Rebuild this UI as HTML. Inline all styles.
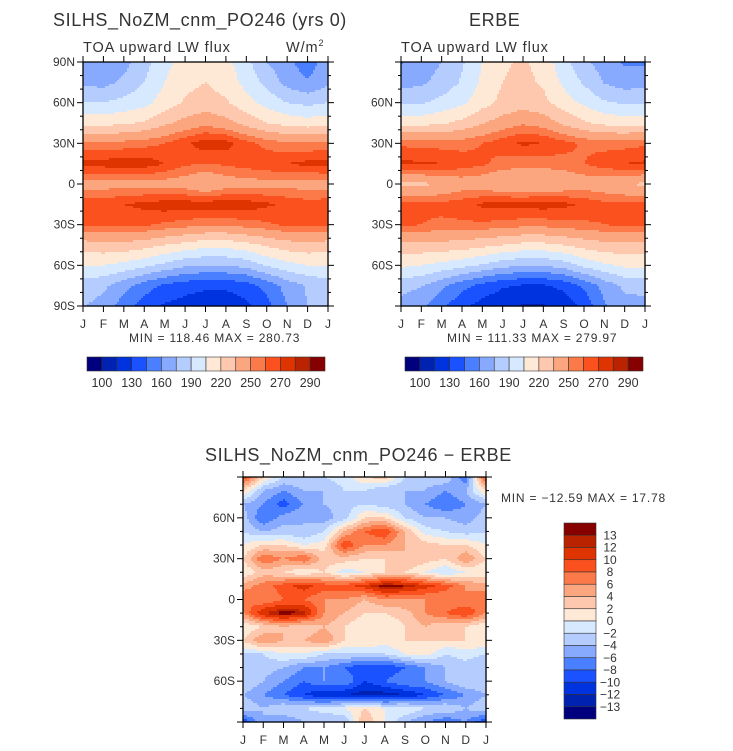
<!DOCTYPE html>
<html><head><meta charset="utf-8">
<style>
html,body{margin:0;padding:0;background:#fff;}
svg{display:block;font-family:"Liberation Sans",sans-serif;}
text{fill:#333;}
</style></head>
<body>
<svg id="c" width="733" height="751" viewBox="0 0 733 751">
<g id="plots"></g>
<text x="53" y="26" font-size="18" letter-spacing="0.6">SILHS_NoZM_cnm_PO246 (yrs 0)</text>
<text x="83" y="52" font-size="14.5" letter-spacing="0.9">TOA upward LW flux</text>
<text x="286" y="52" font-size="14.5" letter-spacing="0.9">W/m<tspan font-size="9" dy="-6">2</tspan></text>
<text x="469" y="26" font-size="18" letter-spacing="0.6">ERBE</text>
<text x="401" y="52" font-size="14.5" letter-spacing="0.9">TOA upward LW flux</text>
<text x="205" y="461" font-size="18" letter-spacing="0.6">SILHS_NoZM_cnm_PO246 − ERBE</text>
<text x="129" y="342" font-size="12" letter-spacing="0.8">MIN = 118.46  MAX = 280.73</text>
<text x="447" y="342" font-size="12" letter-spacing="0.8">MIN = 111.33  MAX = 279.97</text>
<text x="501" y="502" font-size="12" letter-spacing="0.8">MIN = −12.59  MAX =  17.78</text>
</svg>
<script>
const months = ["J","F","M","A","M","J","J","A","S","O","N","D","J"];
const latsTop = [90,75,60,45,30,15,0,-15,-30,-45,-60,-75,-90];
const latsDiff = [90,80,70,60,50,40,30,20,10,0,-10,-20,-30,-40,-50,-60,-70,-80,-90];
const levelsTop = [100,115,130,145,160,175,190,205,220,235,250,260,270,280,290];
const levelsDiff = [-13,-12,-10,-8,-6,-4,-2,0,2,4,6,8,10,12,13];
const tickLabelsTop = ["100","130","160","190","220","250","270","290"];
const tickLabelsDiff = ["13","12","10","8","6","4","2","0","−2","−4","−6","−8","−10","−12","−13"];
const palette = ["#00007f","#0022b0","#0033e0","#1a52ff","#4a80ff","#87aaff","#b5ccff","#d7e9ff","#fee8d6","#fdc8ad","#fca67f","#fc7a4a","#fb511f","#e03400","#b92300","#870000"];
const modelValues = [
 [170,165,170,185,200,212,216,210,195,175,165,150,170],
 [172,170,178,190,205,216,220,214,200,185,170,162,172],
 [190,190,195,200,212,222,226,222,210,200,190,186,190],
 [215,215,218,222,232,240,246,240,230,220,215,212,215],
 [252,252,254,256,260,268,276,274,264,256,252,252,252],
 [274,275,276,276,270,262,260,262,265,268,270,273,274],
 [244,244,245,245,244,242,234,242,244,245,245,244,244],
 [266,267,270,273,276,276,276,277,276,272,268,265,266],
 [262,262,262,262,258,255,252,252,255,258,262,262,262],
 [228,230,230,226,220,215,210,210,215,222,228,230,228],
 [205,205,200,194,186,178,175,176,180,192,200,205,205],
 [182,178,166,152,142,136,133,133,138,150,166,176,182],
 [176,170,152,138,128,124,120,120,126,140,160,176,176]
];
const erbeValues = [
 [158,168,175,188,205,218,222,215,195,178,168,158,158],
 [170,172,180,192,208,220,224,218,202,188,174,168,170],
 [188,188,195,202,214,224,228,224,212,202,192,188,188],
 [215,215,218,224,234,242,248,244,232,222,216,214,215],
 [258,256,256,256,260,266,272,270,264,258,256,256,258],
 [272,272,270,266,262,256,254,254,256,260,266,270,272],
 [232,232,236,242,240,236,234,236,238,242,240,236,232],
 [262,262,263,266,272,274,274,275,273,268,263,262,262],
 [262,260,258,258,258,256,254,254,256,258,260,262,262],
 [230,230,230,228,224,220,216,216,220,226,230,230,230],
 [208,205,200,195,188,180,176,176,182,194,202,208,208],
 [180,176,164,150,140,132,128,128,134,148,166,178,180],
 [170,164,148,134,124,118,114,114,120,134,158,170,170]
];
const diffValues = [
 [10,2,-2,-2,-2,-1,2,3,-2,-3,-2,-8,10],
 [2,-4,-6,-4,-4,-2,-2,-4,-4,-4,-6,-4,2],
 [-4,-6,-9,-6,-4,-3,-2,-3,-4,-6,-8,-6,-4],
 [-3,-8,-5,-4,-5,-3,2,2,-2,-4,-4,-5,-3],
 [-2,-4,-3,-4,-2,4,8,10,4,-1,-2,-3,-2],
 [0,2,2,0,1,10,6,6,4,3,2,2,0],
 [2,8,6,8,3,3,2,2,4,3,2,6,2],
 [0,3,2,0,2,-1,0,2,2,0,-2,0,0],
 [5,7,9,11,9,9,11,14,13,11,9,6,5],
 [8,6,8,8,6,6,4,6,6,6,6,6,8],
 [6,12,14,13,6,4,2,2,3,6,8,10,6],
 [0,2,4,2,4,2,0,0,2,4,2,2,0],
 [2,6,4,4,6,2,2,1,2,2,2,2,2],
 [-2,-2,0,0,-2,-2,-2,-2,0,1,-2,-1,-2],
 [-4,-3,-4,-6,-6,-8,-10,-10,-8,-6,-4,-3,-4],
 [-2,-4,-6,-8,-6,-6,-10,-8,-6,-6,-4,-2,-2],
 [-4,-6,-8,-10,-12,-12,-13,-13,-12,-10,-8,-6,-4],
 [-2,-4,-2,-2,-1,0,2,0,0,-2,-2,-4,-2],
 [-10,-4,-6,-4,-4,-4,4,0,-4,-6,-8,-6,-10]
];
const latLabelsFull = ["90N","60N","30N","0","30S","60S","90S"];
const latLabelsShort = ["","60N","30N","0","30S","60S",""];

const NS="http://www.w3.org/2000/svg";
const root=document.getElementById('plots');
function mk(tag,attrs,parent){const e=document.createElementNS(NS,tag);for(const k in attrs)e.setAttribute(k,attrs[k]);(parent||root).appendChild(e);return e;}
function colorIndex(v,levels){let i=0;while(i<levels.length&&v>=levels[i])i++;return i;}
function sample(grid,lats,mi,lat){
  let m0=Math.max(0,Math.min(Math.floor(mi),months.length-2)),fm=mi-m0;
  let step=(lats[0]-lats[lats.length-1])/(lats.length-1);
  let r=(lats[0]-lat)/step;let r0=Math.max(0,Math.min(Math.floor(r),lats.length-2)),fr=r-r0;
  const a=grid[r0][m0],b=grid[r0][m0+1],c=grid[r0+1][m0],d=grid[r0+1][m0+1];
  return (a*(1-fm)+b*fm)*(1-fr)+(c*(1-fm)+d*fm)*fr;
}
function panel(name,x0,y0,w,h,grid,lats,levels,labels){
  const g=mk('g',{});
  
  
  const cs=2;
  const xS=mi=>x0+mi/(months.length-1)*w;
  const yS=lat=>y0+(90-lat)/180*h;
  for(let py=0;py<h;py+=cs){
    const lat=90-(py+cs/2)/h*180;
    let runStart=0,runCol=-1;
    for(let px=0;;px+=cs){
      const done=px>=w;
      let ci=-1;
      if(!done){const mi=Math.min((px+cs/2)/w,1)*(months.length-1);ci=colorIndex(sample(grid,lats,mi,lat),levels);}
      if(ci!==runCol||done){
        if(runCol>=0){const end=Math.min(px,w);
          const r=mk('rect',{x:x0+runStart,y:y0+py,width:end-runStart+0.6,height:Math.min(cs,h-py)+0.6,fill:palette[runCol]},g);
          
          }
        runStart=px;runCol=ci;
      }
      if(done)break;
    }
  }
  const f=mk('rect',{x:x0,y:y0,width:w,height:h,fill:'none',stroke:'#000','stroke-width':1.3},g);
  
  
  months.forEach((m,i)=>{
    const x=xS(i);
    mk('line',{x1:x,x2:x,y1:y0+h,y2:y0+h+6,stroke:'#000','stroke-width':1},g);
    mk('line',{x1:x,x2:x,y1:y0,y2:y0-6,stroke:'#000','stroke-width':1},g);
    const t=mk('text',{x:x,y:y0+h+22,'font-size':12,'text-anchor':'middle'},g);
    t.textContent=m;
    
    
  });
  for(let lat=90;lat>=-90;lat-=10){
    const y=yS(lat);const major=lat%30===0;const L=major?6:3;
    mk('line',{x1:x0-L,x2:x0,y1:y,y2:y,stroke:'#000','stroke-width':1},g);
    mk('line',{x1:x0+w,x2:x0+w+L,y1:y,y2:y,stroke:'#000','stroke-width':1},g);
  }
  labels.forEach((s,i)=>{
    if(!s)return;
    const t=mk('text',{x:x0-8,y:yS(90-i*30)+4,'font-size':12,'text-anchor':'end'},g);
    t.textContent=s;
    
    
  });
}
function hbar(name,x0,y0,w,h){
  const g=mk('g',{});
  
  
  const bw=w/palette.length;
  palette.forEach((c,i)=>{
    const r=mk('rect',{x:x0+i*bw,y:y0,width:bw,height:h,fill:c,stroke:'#333','stroke-width':0.6},g);
    
    
  });
  tickLabelsTop.forEach((s,i)=>{
    const t=mk('text',{x:x0+(1+2*i)*bw,y:y0+h+16,'font-size':12.5,'text-anchor':'middle'},g);
    t.textContent=s;
    
    
  });
}
function vbar(name,x0,y0,w,h){
  const g=mk('g',{});
  
  
  const bh=h/palette.length;
  palette.slice().reverse().forEach((c,i)=>{
    const r=mk('rect',{x:x0,y:y0+i*bh,width:w,height:bh,fill:c,stroke:'#333','stroke-width':0.6},g);
    
    
  });
  tickLabelsDiff.forEach((s,i)=>{
    const t=mk('text',{x:x0+w+14,y:y0+(i+1)*bh+4,'font-size':12,'text-anchor':'middle'},g);
    t.textContent=s;
    
    
  });
}
panel('model-contour-plot',83,62,245,244,modelValues,latsTop,levelsTop,latLabelsFull);
panel('erbe-contour-plot',401,62,244,244,erbeValues,latsTop,levelsTop,latLabelsShort);
panel('difference-contour-plot',243,477,243,245,diffValues,latsDiff,levelsDiff,latLabelsShort);
hbar('model-colorbar',87,357,238,14);
hbar('erbe-colorbar',405,357,238,14);
vbar('difference-colorbar',564,523,32,196);
</script>
</body></html>
